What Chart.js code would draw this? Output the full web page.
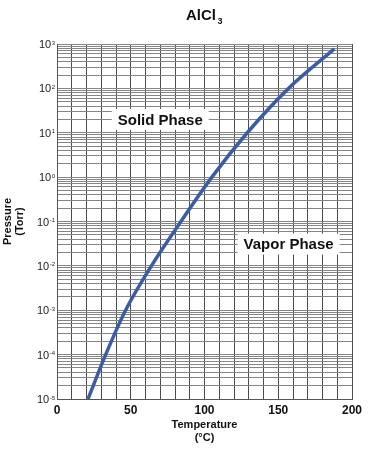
<!DOCTYPE html>
<html>
<head>
<meta charset="utf-8">
<script src="https://cdn.jsdelivr.net/npm/chart.js@4"></script>
<style>
  body { margin: 0; background: #fff; }
  #chart-wrap { width: 372px; height: 450px; position: relative; }
</style>
</head>
<body>
<div id="chart-wrap"><canvas id="vp-chart"></canvas></div>
<script>
// AlCl3 vapour pressure curve
const tempC = [21, 33, 46.5, 64, 84, 105, 129, 157, 188];
const pressureTorr = [1e-5, 1e-4, 1e-3, 1e-2, 1e-1, 1, 10, 100, 775];

const decadeExponents = [-5, -4, -3, -2, -1, 0, 1, 2, 3];
const xTickLabels = [0, 50, 100, 150, 200];

const phaseLabels = ["Solid Phase", "Vapor Phase"];
const phaseTemps = [70, 157];
const phasePressures = [20, 0.031];

const FONT = "'Liberation Sans', Arial, sans-serif";

// draws title, y tick labels (10 with superscript) and phase boxes
const decorPlugin = {
    id: "decor",
    afterDraw(chart) {
        const ctx = chart.ctx;
        const yScale = chart.scales.y;
        const xScale = chart.scales.x;
        ctx.save();

        // title AlCl3 with subscript
        ctx.fillStyle = "#111";
        ctx.textBaseline = "alphabetic";
        ctx.textAlign = "left";
        ctx.font = "bold 15px " + FONT;
        const mainW = ctx.measureText("AlCl").width;
        const startX = 204 - (mainW + 6) / 2;
        ctx.fillText("AlCl", startX, 20);
        ctx.font = "bold 9px " + FONT;
        ctx.fillText("3", startX + mainW + 1.5, 24);

        // y tick labels
        ctx.fillStyle = "#222";
        decadeExponents.forEach(exp => {
            const y = yScale.getPixelForValue(Math.pow(10, exp));
            const expText = exp < 0 ? "-" + Math.abs(exp) : String(exp);
            ctx.font = "6px " + FONT;
            ctx.textAlign = "right";
            const expW = ctx.measureText(expText).width;
            ctx.fillText(expText, 55, y + 0.5);
            ctx.font = "11px " + FONT;
            ctx.fillText("10", 55 - expW - 0.5, y + 4);
        });

        // phase labels in white boxes
        ctx.font = "bold 15px " + FONT;
        ctx.textAlign = "center";
        ctx.textBaseline = "middle";
        phaseLabels.forEach((label, i) => {
            const cx = xScale.getPixelForValue(phaseTemps[i]);
            const cy = yScale.getPixelForValue(phasePressures[i]);
            const w = ctx.measureText(label).width + 12;
            const h = 21;
            ctx.fillStyle = "#fff";
            ctx.fillRect(cx - w / 2, cy - h / 2, w, h);
            ctx.fillStyle = "#111";
            ctx.fillText(label, cx, cy + 1);
        });

        ctx.restore();
    }
};

const canvas = document.getElementById("vp-chart");
const ctx = canvas.getContext("2d");

new Chart(ctx, {
    type: "line",
    data: {
        datasets: [{
            label: "AlCl3",
            data: tempC.map((t, i) => ({ x: t, y: pressureTorr[i] })),
            borderColor: "#3b5ca6",
            borderWidth: 3.5,
            pointRadius: 0,
            cubicInterpolationMode: "monotone",
            fill: false
        }]
    },
    options: {
        responsive: true,
        maintainAspectRatio: false,
        animation: false,
        layout: { padding: { top: 44, right: 20, left: 0, bottom: 0 } },
        plugins: {
            legend: { display: false },
            tooltip: { enabled: false }
        },
        scales: {
            x: {
                type: "linear",
                min: 0,
                max: 200,
                afterFit: scale => { scale.height = 51; },
                ticks: {
                    stepSize: 10,
                    autoSkip: false,
                    maxRotation: 0,
                    padding: 4,
                    color: "#111",
                    font: { family: FONT, size: 12, weight: "bold" },
                    callback: v => xTickLabels.includes(v) ? String(v) : ""
                },
                grid: { color: "#4d4d4d", drawTicks: false },
                border: { color: "#555" },
                title: {
                    display: true,
                    text: ["Temperature", "(°C)"],
                    color: "#111",
                    padding: { top: 0, bottom: 5.5 },
                    font: { family: FONT, size: 11, weight: "bold", lineHeight: 1.18 }
                }
            },
            y: {
                type: "logarithmic",
                min: 1e-5,
                max: 1e3,
                afterFit: scale => { scale.width = 57; },
                afterBuildTicks: scale => {
                    const ticks = [];
                    decadeExponents.forEach(exp => {
                        if (exp === 3) {
                            ticks.push({ value: 1e3 });
                            return;
                        }
                        for (let m = 1; m <= 9; m++) {
                            ticks.push({ value: m * Math.pow(10, exp) });
                        }
                    });
                    scale.ticks = ticks;
                },
                ticks: { display: false, autoSkip: false },
                grid: { color: "#858585", drawTicks: false },
                border: { color: "#555" },
                title: {
                    display: true,
                    text: ["Pressure", "(Torr)"],
                    color: "#111",
                    padding: { top: 1.5, bottom: 0 },
                    font: { family: FONT, size: 11, weight: "bold", lineHeight: 1.1 }
                }
            }
        }
    },
    plugins: [decorPlugin]
});
</script>
</body>
</html>
